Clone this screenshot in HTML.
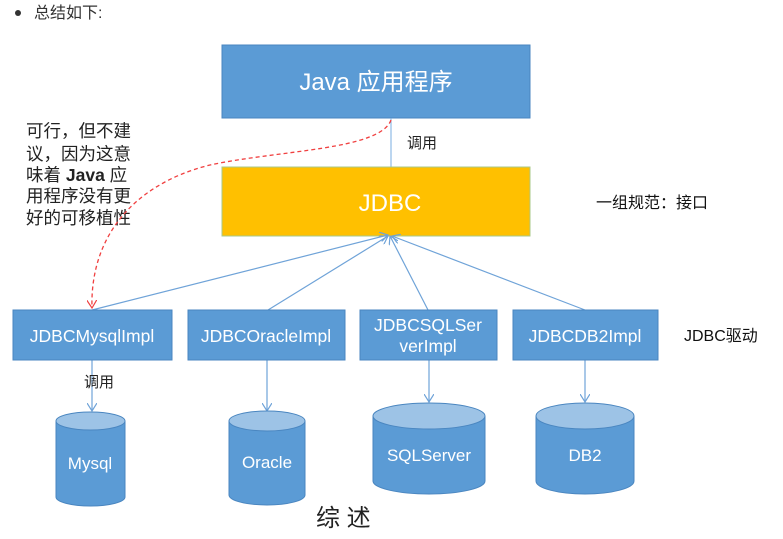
<!DOCTYPE html>
<html><head><meta charset="utf-8"><style>
body{margin:0;background:#fff;width:783px;height:539px;overflow:hidden}
svg{display:block}
text{font-family:"Liberation Sans","Noto Sans CJK SC",sans-serif}
</style></head><body>
<svg width="783" height="539" viewBox="0 0 783 539">
<defs>
<marker id="a" markerWidth="10" markerHeight="10" refX="8" refY="5" orient="auto" markerUnits="userSpaceOnUse"><path d="M0,0 L8,5 L0,10" fill="none" stroke="#6fa3d8" stroke-width="1.2"/></marker>
<marker id="r" markerWidth="10" markerHeight="10" refX="8" refY="5" orient="auto" markerUnits="userSpaceOnUse"><path d="M0,0 L8,5 L0,10" fill="none" stroke="#f04040" stroke-width="1.2"/></marker>
</defs>
<circle cx="18" cy="13" r="3" fill="#333"/>
<text x="34" y="18" font-size="16" fill="#333">总结如下:</text>
<rect x="222" y="45" width="308" height="73" fill="#5b9bd5" stroke="#4a86c0"/>
<text x="376" y="90" font-size="24" fill="#fff" text-anchor="middle">Java 应用程序</text>
<line x1="391" y1="118" x2="391" y2="167" stroke="#7aaee0"/>
<text x="407" y="148" font-size="15" fill="#222">调用</text>
<rect x="222" y="167" width="308" height="69" fill="#ffc000" stroke="#a9c98a"/>
<text x="390" y="211" font-size="24" fill="#fff" text-anchor="middle">JDBC</text>
<text x="596" y="208" font-size="16" fill="#111">一组规范：接口</text>
<g font-size="17.5" fill="#222">
<text x="26" y="137">可行，但不建</text>
<text x="26" y="160">议，因为这意</text>
<text x="26" y="181">味着 <tspan font-weight="bold">Java</tspan> 应</text>
<text x="26" y="202">用程序没有更</text>
<text x="26" y="224">好的可移植性</text>
</g>
<path d="M391,120 C380,150 280,150 210,165 C130,185 90,240 92,308" fill="none" stroke="#f04040" stroke-width="1.3" stroke-dasharray="4,3" marker-end="url(#r)"/>
<g stroke="#6fa3d8" stroke-width="1.2" fill="none" marker-end="url(#a)">
<line x1="92" y1="310" x2="388" y2="235"/>
<line x1="268" y1="310" x2="388" y2="236"/>
<line x1="428" y1="310" x2="390" y2="236"/>
<line x1="585" y1="310" x2="392" y2="236"/>
<line x1="92" y1="360" x2="92" y2="411"/>
<line x1="267" y1="360" x2="267" y2="411"/>
<line x1="429" y1="360" x2="429" y2="402"/>
<line x1="585" y1="360" x2="585" y2="402"/>
</g>
<g fill="#5b9bd5" stroke="#4a86c0">
<rect x="13" y="310" width="159" height="50"/>
<rect x="188" y="310" width="157" height="50"/>
<rect x="360" y="310" width="137" height="50"/>
<rect x="513" y="310" width="145" height="50"/>
</g>
<g font-size="17.5" fill="#fff" text-anchor="middle">
<text x="92" y="342">JDBCMysqlImpl</text>
<text x="266" y="342">JDBCOracleImpl</text>
<text x="428" y="331">JDBCSQLSer</text>
<text x="428" y="352">verImpl</text>
<text x="585" y="342">JDBCDB2Impl</text>
</g>
<text x="684" y="341" font-size="16" fill="#111">JDBC驱动</text>
<text x="84" y="387" font-size="15" fill="#222">调用</text>
<g stroke="#4a86c0" fill="#5b9bd5">
<path d="M56,421 V497 A34.5,9 0 0 0 125,497 V421"/><ellipse cx="90.5" cy="421" rx="34.5" ry="9" fill="#9dc3e6"/>
<path d="M229,421 V495 A38,10 0 0 0 305,495 V421"/><ellipse cx="267" cy="421" rx="38" ry="10" fill="#9dc3e6"/>
<path d="M373,416 V481 A56,13 0 0 0 485,481 V416"/><ellipse cx="429" cy="416" rx="56" ry="13" fill="#9dc3e6"/>
<path d="M536,416 V481 A49,13 0 0 0 634,481 V416"/><ellipse cx="585" cy="416" rx="49" ry="13" fill="#9dc3e6"/>
</g>
<g font-size="17" fill="#fff" text-anchor="middle">
<text x="90" y="469">Mysql</text>
<text x="267" y="468">Oracle</text>
<text x="429" y="461">SQLServer</text>
<text x="585" y="461">DB2</text>
</g>
<text x="316" y="526" font-size="24" fill="#222" font-family="Noto Serif CJK SC,serif">综 述</text>
</svg>
</body></html>
